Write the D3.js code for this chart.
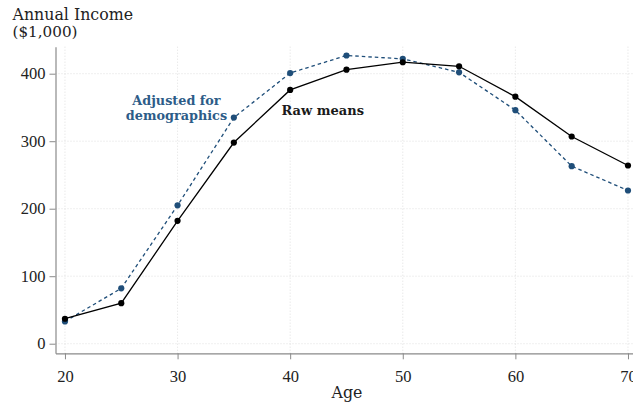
<!DOCTYPE html>
<html>
<head>
<meta charset="utf-8">
<script src="https://cdn.jsdelivr.net/npm/d3@7"></script>
<style>
  body { margin: 0; background: #fff; }
  svg { display: block; }
</style>
</head>
<body>
<div class="container"></div>
<script>
// chart data
const ages = [20, 25, 30, 35, 40, 45, 50, 55, 60, 65, 70];
const rawMeans = [37, 60, 182, 298, 376, 406, 417, 411, 366, 307, 264];
const adjusted = [33, 82, 205, 335, 401, 427, 422, 402, 346, 263, 227];
const xTicks = [20, 30, 40, 50, 60, 70];
const yTicks = [0, 100, 200, 300, 400];

const w = 633;
const h = 406;
const blue = "#1f4e79";
const serif = "DejaVu Serif";
const tickFont = "Liberation Serif";

const svg = d3.select(".container")
              .append("svg")
              .attr("width", w)
              .attr("height", h);

// scales: domains stretched a bit so the axis lines run past the first/last tick
const x = d3.scaleLinear().domain([19.16, 72]).range([55.5, 650.5]);
const y = d3.scaleLinear().domain([-14.2, 440]).range([353.3, 46.7]);

// dotted grid
svg.append("g")
   .selectAll("line")
   .data(yTicks).enter()
   .append("line")
   .attr("x1", x(19.16)).attr("x2", w)
   .attr("y1", d => y(d)).attr("y2", d => y(d))
   .attr("stroke", "#d8d8d8")
   .attr("stroke-width", 0.8)
   .attr("stroke-dasharray", "1,2");

svg.append("g")
   .selectAll("line")
   .data(xTicks).enter()
   .append("line")
   .attr("x1", d => x(d)).attr("x2", d => x(d))
   .attr("y1", y(440)).attr("y2", y(-14.2))
   .attr("stroke", "#d8d8d8")
   .attr("stroke-width", 0.8)
   .attr("stroke-dasharray", "1,2");

// axes
const xAxis = svg.append("g")
   .attr("id", "x-axis")
   .attr("transform", `translate(0, ${y(-14.2)})`)
   .call(d3.axisBottom(x).tickValues(xTicks).tickSize(6).tickSizeOuter(0).tickPadding(10.5));

const yAxis = svg.append("g")
   .attr("id", "y-axis")
   .attr("transform", `translate(${x(19.16)}, 0)`)
   .call(d3.axisLeft(y).tickValues(yTicks).tickSize(6).tickSizeOuter(0).tickPadding(4));

[xAxis, yAxis].forEach(a => {
  a.attr("font-family", tickFont).attr("font-size", 16.5);
  a.select(".domain").attr("stroke", "#8a8a8a").attr("stroke-width", 1.2);
  a.selectAll(".tick line").attr("stroke", "#8a8a8a").attr("stroke-width", 1);
  a.selectAll(".tick text").attr("fill", "#222");
});

// axis titles
svg.append("text")
   .attr("x", 12.5).attr("y", 20)
   .text("Annual Income")
   .attr("font-family", serif).attr("font-size", 15.8).attr("fill", "#222");
svg.append("text")
   .attr("x", 12.5).attr("y", 37)
   .text("($1,000)")
   .attr("font-family", serif).attr("font-size", 15.2).attr("fill", "#222");
svg.append("text")
   .attr("x", 347).attr("y", 398)
   .attr("text-anchor", "middle")
   .text("Age")
   .attr("font-family", serif).attr("font-size", 15.8).attr("fill", "#222");

// lines
const lineOf = vals => d3.line()
   .x((d, i) => x(ages[i]))
   .y(d => y(d))(vals);

svg.append("path")
   .attr("d", lineOf(adjusted))
   .attr("fill", "none")
   .attr("stroke", blue)
   .attr("stroke-width", 1.3)
   .attr("stroke-dasharray", "3.5,3");

svg.append("path")
   .attr("d", lineOf(rawMeans))
   .attr("fill", "none")
   .attr("stroke", "#000")
   .attr("stroke-width", 1.3);

svg.append("g")
   .selectAll("circle")
   .data(adjusted).enter()
   .append("circle")
   .attr("cx", (d, i) => x(ages[i]))
   .attr("cy", d => y(d))
   .attr("r", 3.1)
   .attr("fill", blue);

svg.append("g")
   .selectAll("circle")
   .data(rawMeans).enter()
   .append("circle")
   .attr("cx", (d, i) => x(ages[i]))
   .attr("cy", d => y(d))
   .attr("r", 3.1)
   .attr("fill", "#000");

// series labels
const adjLabel = svg.append("text")
   .attr("text-anchor", "middle")
   .attr("font-family", serif).attr("font-size", 12.8).attr("font-weight", "bold")
   .attr("fill", "#2d5c88");
adjLabel.append("tspan").attr("x", 176.5).attr("y", 104.5).text("Adjusted for");
adjLabel.append("tspan").attr("x", 176.5).attr("y", 119.5).text("demographics");

svg.append("text")
   .attr("x", 281.5).attr("y", 115)
   .text("Raw means")
   .attr("font-family", serif).attr("font-size", 13).attr("font-weight", "bold")
   .attr("fill", "#1a1a1a");
</script>
</body>
</html>
